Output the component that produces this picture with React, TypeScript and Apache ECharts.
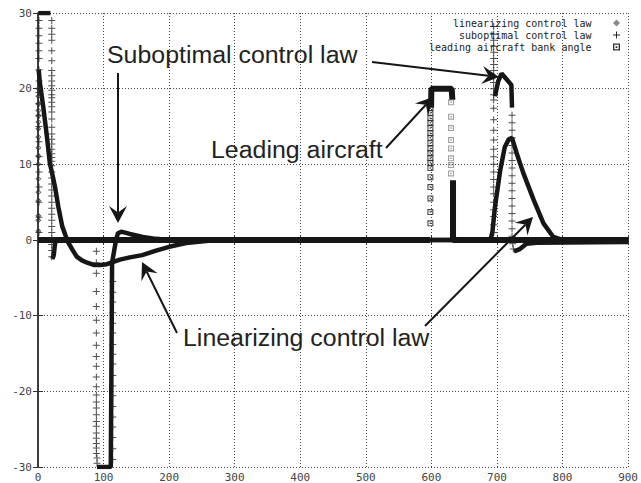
import { useEffect, useRef } from 'react';
import * as echarts from 'echarts';

// ---------- axes ----------
const X_MIN = 0;
const X_MAX = 900;
const X_STEP = 100;
const Y_MIN = -30;
const Y_MAX = 30;
const Y_STEP = 10;

const NAME_LIN = 'linearizing control law';
const NAME_SUB = 'suboptimal control law';
const NAME_LEAD = 'leading aircraft bank angle';

// ---------- data (time [s], bank angle [deg]); '-' breaks the trace ----------
const linearizingCurve = [
  [1, 22.5], [3, 20.7], [8, 17.6], [13, 14.1], [18, 10.2], [26, 7.0], [31, 4.4], [37, 1.8], [42, 0.6],
  [46, -0.3], [52, -1.2], [59, -2.2], [67, -2.7], [75, -3.0], [85, -3.3], [95, -3.3], [105, -3.2],
  [115, -2.9], [125, -2.6], [140, -2.3], [159, -2.0], [180, -1.4], [200, -0.9], [226, -0.4], [260, -0.1],
  [300, 0], [690, 0], [693, 1], [697, 4.4], [705, 9.2], [712, 12.3], [718, 13.3], [723, 13.5], [730, 11.5],
  [740, 8.9], [756, 5.3], [771, 2.2], [786, 0.4], [800, 0], [900, 0],
];
const linearizingMarks = [
  [0.5, 1.2], [0.5, 2.6], [0.5, 3.2], [0.5, 5.2], [0.5, 6.3], [0.5, 8.1], [0.5, 10], [0.5, 11.1], [0.5, 12.2],
  [0.5, 13.6], [0.5, 14.7], [0.5, 15.6], [0.5, 16.4], [0.5, 17.1], [0.5, 18], [0.5, 19], [0.5, 20],
];

const suboptimalCurve = [
  [0.5, 30], [19, 30], [19.5, '-'],
  [22, -2.5], [24, -2.0], [26, -0.5], [28, 0], [88, 0], [88.5, '-'],
  [90, -30], [111, -30], [112, -30], [112.5, -10], [113, -3], [116, -1.5], [119, 0], [122, 0.9], [127, 1.1],
  [140, 0.8], [160, 0.4], [180, 0.15], [200, 0], [693, 0], [694, '-'],
  [697, 19], [702, 21], [707, 22], [715, 21.2], [722, 20.5], [723, 17.5], [724, '-'],
  [726, -1.5], [735, -1.2], [745, -0.5], [760, -0.35], [850, -0.3], [900, -0.25],
];
const suboptimalMarks = [
  // jump at t = 0
  [1.5, 1], [1.5, 3], [1.5, 5], [1.5, 7], [1.5, 9], [1.5, 11], [1.5, 13], [1.5, 15], [1.5, 16.5], [1.5, 18],
  [1.5, 19.5], [1.5, 21], [1.5, 22.5], [1.5, 24], [1.5, 25], [1.5, 26], [1.5, 27], [1.5, 28], [1.5, 29],
  // fall from saturation near t = 21
  [21, 29], [21, 28], [21, 27.2], [21, 26.4], [21, 25], [21, 23.7], [21, 22.4], [21, 21.7], [21, 21], [21, 20.4],
  [21, 19.8], [21, 19.2], [21, 18.8], [21, 18.2], [21, 17.6], [21, 16.9], [21, 16], [21, 14.9], [21, 14],
  [21, 13.3], [21, 12.7], [21, 12], [21, 11.4], [21, 10.9], [21, 10.4], [21, 9.8], [21, 9], [21, 8.2], [21, 7.4],
  [21, 6.6], [21, 5.8], [21, 5], [21, 4.2], [21, 3.4], [21, 2.6], [21, 1.8], [21, 1], [21, 0.2], [21, -0.6],
  [21, -1.4], [21, -2.2],
  // fall to negative saturation near t = 89
  [89, -1.5], [89, -3], [89, -4.4], [89, -6.8], [89, -8.8], [89, -10.6], [89, -12.3], [89, -13.9], [89, -15.4],
  [89, -16.7], [89, -18.1], [89, -19.4], [89, -20.5], [89, -21.4], [89, -22.2], [89, -23.1], [89, -24],
  [89, -24.6], [89, -25.5], [89, -26.2], [89, -26.9], [89, -27.5], [89, -28.2], [90, -28.8], [90, -29.5],
  // recovery column near t = 113
  [114, -29], [114, -27.6], [114, -26.1], [114, -24.7], [114, -23.4], [114, -22], [114, -20.6], [114, -19.3],
  [114, -17.9], [114, -16.4], [114, -15.1], [114, -13.8], [114, -12.3], [114, -11], [114, -9.6], [114, -8.2],
  [114, -6.9], [114, -5.5],
  // rise near t = 695
  [695, 1], [695, 2], [695, 3.1], [695, 4], [695, 5], [695, 6.1], [695, 7], [695, 8], [695, 9], [695, 10],
  [695, 11], [695, 12], [695, 13.2], [695, 14.5], [695, 15.9], [695, 17.4], [695, 18.5], [695, 19.2],
  [695, 20], [695, 20.8], [695, 21.6], [695, 22.4], [695, 23.2], [695, 24], [695, 24.8], [695, 25.6],
  [695, 26.4], [695, 27.2], [695, 28.2],
  // drop near t = 723
  [723, 16.5], [723, 15.5], [723, 14.5], [723, 13.5], [723, 12.5], [723, 11.5], [723, 10.5], [723, 9.5],
  [723, 8.5], [723, 7.5], [723, 6.5], [723, 5.5], [723, 4.5], [723, 3.5], [723, 2.5], [723, 1.5], [723, 0.5],
  [724, -0.5], [725, -1.2],
];

const leadingCurve = [
  [0, 0], [598, 0], [598.5, '-'],
  [599.5, 17.5], [600, 20], [631, 20], [632, 18.5], [632.5, '-'],
  [633, 7.9], [633, 0], [900, 0],
];
const leadingRiseMarks = [
  [598.5, 2.2], [598.5, 3.7], [598.5, 5.5], [598.5, 7.0], [598.5, 8.3], [598.5, 9.5], [598.5, 10.2],
  [598.5, 10.8], [598.5, 11.5], [598.5, 12.1], [598.5, 12.8], [598.5, 13.5], [598.5, 14.1], [598.5, 14.8],
  [598.5, 15.5], [598.5, 16.1], [598.5, 16.8], [598.5, 17.4],
];
const leadingFallMarks = [
  [630, 18.2], [630, 16.3], [630, 14.8], [630, 13.2], [630, 12.1], [630, 10.8], [630, 9.9], [630, 8.8],
];

// ---------- annotations (pixel layout) ----------
const labels = [
  { text: 'Suboptimal control law', x: 107, y: 55 },
  { text: 'Leading aircraft', x: 211, y: 150 },
  { text: 'Linearizing control law', x: 183, y: 338 },
];
const arrows = [
  { from: [118, 73], to: [118, 223] },
  { from: [372, 62], to: [499, 77] },
  { from: [386, 148], to: [433, 97] },
  { from: [177, 333], to: [142, 262] },
  { from: [425, 326], to: [533, 217] },
];

const PLUS = 'path://M3,0H4V3H7V4H4V7H3V4H0V3H3Z';
const SQUARE = 'path://M0,0H8V8H0Z M1.5,1.5V6.5H6.5V1.5Z M3,3H5V5H3Z';
const DIAMOND = 'path://M4,0L8,4L4,8L0,4Z M4,1.7L1.7,4L4,6.3L6.3,4Z';
const DIAMOND_SOLID = 'path://M4,0L8,4L4,8L0,4Z';

const INK = '#161616';
const MONO = '"DejaVu Sans Mono", "Liberation Mono", monospace';
const SANS = '"Liberation Sans", Arial, sans-serif';

function buildGraphics() {
  const els: any[] = [];
  arrows.forEach((a) => {
    const dx = a.to[0] - a.from[0];
    const dy = a.to[1] - a.from[1];
    const len = Math.hypot(dx, dy);
    const ux = dx / len;
    const uy = dy / len;
    const nx = -uy;
    const ny = ux;
    const L = 17;
    const W = 9;
    const notch = 0.62 * L;
    const [tx, ty] = a.to;
    els.push({
      type: 'line',
      z: 100,
      shape: { x1: a.from[0], y1: a.from[1], x2: tx - notch * ux, y2: ty - notch * uy },
      style: { stroke: INK, lineWidth: 2 },
    });
    els.push({
      type: 'polygon',
      z: 100,
      shape: {
        points: [
          [tx, ty],
          [tx - L * ux + W * nx, ty - L * uy + W * ny],
          [tx - notch * ux, ty - notch * uy],
          [tx - L * ux - W * nx, ty - L * uy - W * ny],
        ],
      },
      style: { fill: INK },
    });
  });
  labels.forEach((l) => {
    els.push({
      type: 'text',
      z: 100,
      x: l.x,
      y: l.y,
      scaleX: 1.06,
      style: {
        text: l.text,
        font: `23.5px ${SANS}`,
        fill: '#222',
        align: 'left',
        verticalAlign: 'middle',
      },
    });
  });
  return els;
}

function axisCommon() {
  return {
    axisLine: { show: true, lineStyle: { color: '#333', width: 1.5 } },
    axisTick: { show: true, inside: true, length: 5, lineStyle: { color: '#333' } },
  };
}

export default function App() {
  const ref = useRef<HTMLDivElement>(null);
  useEffect(() => {
    document.body.style.margin = '0';
    const chart = echarts.init(ref.current!, null, { renderer: 'svg' });
    const option: any = {
      animation: false,
      backgroundColor: '#fff',
      grid: { left: 38, right: 9, top: 13, bottom: 16, show: false },
      legend: {
        orient: 'vertical',
        right: 21,
        top: 17,
        padding: 0,
        align: 'right',
        itemWidth: 40,
        itemHeight: 7,
        itemGap: 0,
        selectedMode: false,
        textStyle: { fontFamily: MONO, fontSize: 10, color: '#222', lineHeight: 12 },
        data: [
          { name: NAME_LIN, icon: DIAMOND_SOLID, itemStyle: { color: '#8a8a8a' } },
          { name: NAME_SUB, icon: PLUS, itemStyle: { color: '#222' } },
          { name: NAME_LEAD, icon: SQUARE, itemStyle: { color: '#333' } },
        ],
      },
      xAxis: [
        {
          type: 'value', min: X_MIN, max: X_MAX, interval: X_STEP, position: 'bottom',
          ...axisCommon(),
          axisLabel: { fontFamily: MONO, fontSize: 11, color: '#444', margin: 5 },
          splitLine: { show: true, lineStyle: { color: '#444', type: [1, 2], width: 1 } },
        },
        {
          type: 'value', min: X_MIN, max: X_MAX, interval: X_STEP, position: 'top',
          ...axisCommon(),
          axisLabel: { show: false },
          splitLine: { show: false },
        },
      ],
      yAxis: [
        {
          type: 'value', min: Y_MIN, max: Y_MAX, interval: Y_STEP, position: 'left',
          ...axisCommon(),
          axisLabel: { fontFamily: MONO, fontSize: 11, color: '#444', margin: 6 },
          splitLine: { show: true, lineStyle: { color: '#444', type: [1, 2], width: 1 } },
        },
        {
          type: 'value', min: Y_MIN, max: Y_MAX, interval: Y_STEP, position: 'right',
          ...axisCommon(),
          axisLabel: { show: false },
          splitLine: { show: false },
        },
      ],
      series: [
        {
          name: NAME_LEAD, type: 'line', data: leadingCurve, showSymbol: false, connectNulls: false,
          itemStyle: { color: '#333' }, lineStyle: { color: INK, width: 6 }, z: 3,
        },
        {
          name: NAME_LEAD, type: 'scatter', data: leadingRiseMarks, symbol: SQUARE, symbolSize: 6,
          itemStyle: { color: '#222' }, z: 4,
        },
        {
          name: NAME_LEAD, type: 'scatter', data: leadingFallMarks, symbol: SQUARE, symbolSize: 6,
          itemStyle: { color: '#8a8a8a' }, z: 4,
        },
        {
          name: NAME_LIN, type: 'line', data: linearizingCurve, showSymbol: false, connectNulls: false,
          itemStyle: { color: '#8a8a8a' }, lineStyle: { color: INK, width: 4.5 }, z: 3,
        },
        {
          name: NAME_LIN, type: 'scatter', data: linearizingMarks, symbol: DIAMOND, symbolSize: 6,
          itemStyle: { color: '#333' }, z: 4,
        },
        {
          name: NAME_SUB, type: 'line', data: suboptimalCurve, showSymbol: false, connectNulls: false,
          itemStyle: { color: '#222' }, lineStyle: { color: INK, width: 4.5 }, z: 3,
        },
        {
          name: NAME_SUB, type: 'scatter', data: suboptimalMarks, symbol: PLUS, symbolSize: 7,
          itemStyle: { color: '#222' }, z: 4,
        },
      ],
      graphic: buildGraphics(),
    };
    chart.setOption(option);
    return () => chart.dispose();
  }, []);
  return <div ref={ref} style={{ width: 641, height: 483 }} />;
}
